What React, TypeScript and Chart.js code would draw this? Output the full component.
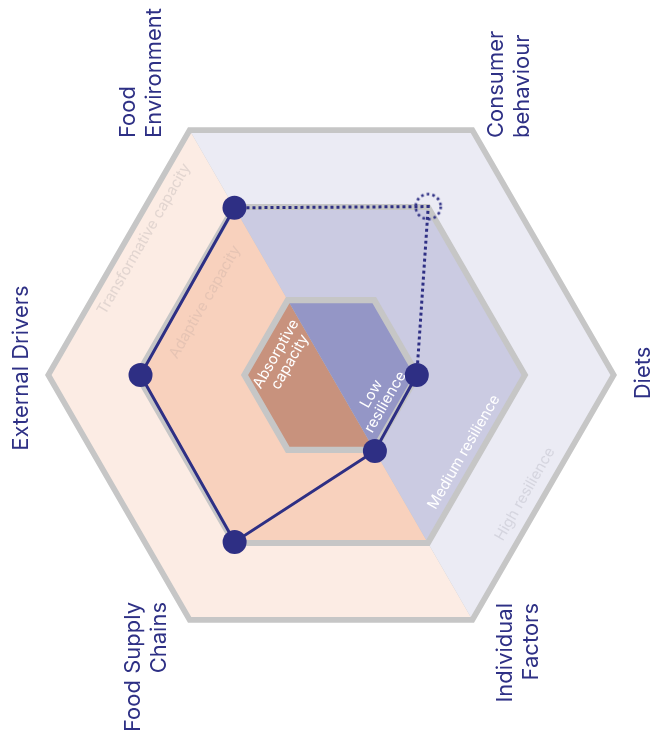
import React, { useEffect, useRef } from "react";
import { Chart, registerables } from "chart.js";

Chart.register(...registerables);

// ---- data ----
const axes = [
  "External Drivers",
  "Food Environment",
  "Consumer behaviour",
  "Diets",
  "Individual Factors",
  "Food Supply Chains",
];
const axisLabelLines = [
  ["External Drivers"],
  ["Food", "Environment"],
  ["Consumer", "behaviour"],
  ["Diets"],
  ["Individual", "Factors"],
  ["Food Supply", "Chains"],
];
const scores = [66.6, 67.5, 68, 30, 30.7, 67.4];
const estimated = [false, false, true, false, false, false];

// ring levels: outer, middle, inner
const ringFillLevels = [97.7, 66.6, 29];
const ringEdgeLevels = [100, 69, 31.5];
// which axes each half covers (capacity side / resilience side)
const capacityMask = [1, 1, 0, 0, 1, 1];
const resilienceMask = [0, 1, 1, 1, 1, 0];

const capacityNames = ["Transformative capacity", "Adaptive capacity", ["Absorptive", "capacity"]];
const resilienceNames = ["High resilience", "Medium resilience", ["Low", "resilience"]];

// ---- styles ----
const NAVY = "#2E2F84";
const LABEL = "#2E3085";
const GRAY = "#C6C6C6";
const capacityColors = ["#FCECE4", "#F8D1BD", "#C8927D"];
const resilienceColors = ["#EBEBF4", "#CBCBE2", "#9496C6"];
const capacityTextColors = ["#E2D5D0", "#E6C4B4", "#FFFFFF"];
const resilienceTextColors = ["#D5D5DF", "#FFFFFF", "#FFFFFF"];
const FONT = "Inter, 'Open Sans', sans-serif";

// label placements (offsets from chart centre)
const axisLabelPos: [number, number, CanvasTextAlign][] = [
  [-303, -7, "center"],
  [-196, -237, "left"],
  [172, -237, "left"],
  [319, -2, "center"],
  [181, 228, "right"],
  [-191, 227, "right"],
];
const capacityTextPos = [
  [-187, -136],
  [-126, -73],
  [-48, -17],
];
const resilienceTextPos = [
  [194, 119],
  [133, 77],
  [47.5, 23],
];

function makeDottedCircle() {
  const c = document.createElement("canvas");
  c.width = 32;
  c.height = 32;
  const g = c.getContext("2d")!;
  g.strokeStyle = NAVY;
  g.lineWidth = 2.6;
  g.setLineDash([2.6, 3.1]);
  g.beginPath();
  g.arc(16, 16, 12.5, 0, Math.PI * 2);
  g.stroke();
  return c;
}

const textPlugin = {
  id: "hexTexts",
  afterDatasetsDraw(chart: any) {
    const s = chart.scales.r;
    const ctx = chart.ctx;
    const cx = s.xCenter;
    const cy = s.yCenter;

    const drawBlock = (
      lines: string[],
      x: number,
      y: number,
      angle: number,
      color: string,
      font: string,
      align: CanvasTextAlign,
      baseline: CanvasTextBaseline,
      pitch: number,
      centred: boolean
    ) => {
      ctx.save();
      ctx.translate(x, y);
      ctx.rotate(angle);
      ctx.fillStyle = color;
      ctx.font = font;
      ctx.textAlign = align;
      ctx.textBaseline = baseline;
      lines.forEach((l, k) => {
        const off = centred ? (k - (lines.length - 1) / 2) * pitch : k * pitch;
        ctx.fillText(l, 0, off);
      });
      ctx.restore();
    };

    axisLabelLines.forEach((lines, i) => {
      const [dx, dy, align] = axisLabelPos[i];
      drawBlock(lines, cx + dx, cy + dy, -Math.PI / 2, LABEL, `400 22px ${FONT}`, align, "alphabetic", 26, false);
    });

    capacityNames.forEach((n, i) => {
      const lines = Array.isArray(n) ? n : [n];
      const [dx, dy] = capacityTextPos[i];
      drawBlock(lines, cx + dx, cy + dy, -Math.PI / 3, capacityTextColors[i], `400 15px ${FONT}`, "center", "middle", 16, true);
    });
    resilienceNames.forEach((n, i) => {
      const lines = Array.isArray(n) ? n : [n];
      const [dx, dy] = resilienceTextPos[i];
      drawBlock(lines, cx + dx, cy + dy, -Math.PI / 3, resilienceTextColors[i], `400 15px ${FONT}`, "center", "middle", 16, true);
    });
  },
};

export default function App() {
  const ref = useRef<HTMLCanvasElement>(null);

  useEffect(() => {
    if (!ref.current) return;
    const dotted = makeDottedCircle();
    const n = scores.length;

    // solid part: measured axes only
    const solidData = scores.map((v, i) => (estimated[i] ? null : v));
    // dotted part: estimated axes and their neighbours
    const dottedData = scores.map((v, i) =>
      estimated[i] || estimated[(i + 1) % n] || estimated[(i + n - 1) % n] ? v : null
    );

    const ringSets: any[] = [];
    let order = 100;
    ringFillLevels.forEach((lvl, r) => {
      ringSets.push({
        label: `edge${r}`,
        data: axes.map(() => ringEdgeLevels[r]),
        backgroundColor: GRAY,
        borderColor: "rgba(0,0,0,0)",
        borderWidth: 0,
        pointRadius: 0,
        fill: true,
        order: order--,
      });
      ringSets.push({
        label: `cap${r}`,
        data: capacityMask.map((m) => m * lvl),
        backgroundColor: capacityColors[r],
        borderColor: "rgba(0,0,0,0)",
        borderWidth: 0,
        pointRadius: 0,
        fill: true,
        order: order--,
      });
      ringSets.push({
        label: `res${r}`,
        data: resilienceMask.map((m) => m * lvl),
        backgroundColor: resilienceColors[r],
        borderColor: "rgba(0,0,0,0)",
        borderWidth: 0,
        pointRadius: 0,
        fill: true,
        order: order--,
      });
    });

    const chart = new Chart(ref.current, {
      type: "radar",
      data: {
        labels: axes,
        datasets: [
          {
            label: "Resilience",
            data: solidData,
            borderColor: NAVY,
            borderWidth: 3,
            fill: false,
            spanGaps: false,
            pointRadius: 12,
            pointBorderWidth: 0,
            pointBackgroundColor: NAVY,
            pointStyle: "circle",
            order: 0,
          } as any,
          {
            label: "Resilience (estimated)",
            data: dottedData,
            borderColor: NAVY,
            borderWidth: 3,
            borderDash: [3, 3],
            borderCapStyle: "butt",
            fill: false,
            spanGaps: false,
            pointRadius: (c: any) => (estimated[c.dataIndex] ? 12 : 0),
            pointBorderWidth: 0,
            pointBackgroundColor: "rgba(0,0,0,0)",
            pointStyle: dotted,
            order: 1,
          } as any,
          ...ringSets,
        ],
      },
      plugins: [textPlugin],
      options: {
        animation: false,
        responsive: false,
        events: [],
        layout: { padding: { left: 45, right: 34, top: 89, bottom: 82 } },
        plugins: { legend: { display: false }, tooltip: { enabled: false }, title: { display: false } },
        elements: { line: { tension: 0 } },
        scales: {
          r: {
            min: 0,
            max: 100,
            startAngle: -90,
            grid: { display: false },
            angleLines: { display: false },
            ticks: { display: false },
            pointLabels: { display: false },
          },
        },
      } as any,
    });
    return () => chart.destroy();
  }, []);

  return (
    <div style={{ position: "fixed", left: 0, top: 0, width: 651, height: 743, background: "#fff" }}>
      <canvas ref={ref} width={651} height={743} style={{ display: "block" }} />
    </div>
  );
}
